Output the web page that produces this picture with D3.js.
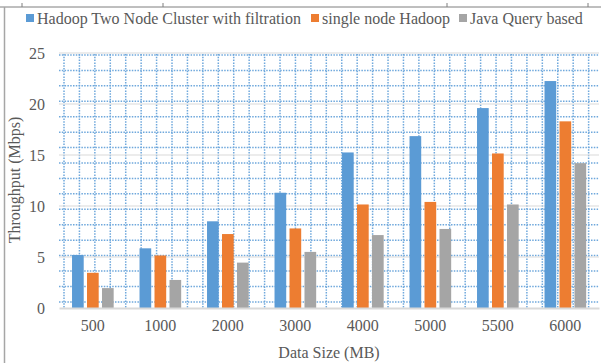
<!DOCTYPE html>
<html>
<head>
<meta charset="utf-8">
<script src="https://cdn.jsdelivr.net/npm/d3@7"></script>
<style>
  body { margin: 0; background: #fff; }
</style>
</head>
<body>
<div id="chart"></div>
<script>
// Data
const categories = ["500", "1000", "2000", "3000", "4000", "5000", "5500", "6000"];
const seriesNames = ["Hadoop Two Node Cluster with filtration", "single node Hadoop", "Java Query based"];
const hadoopTwoNode = [5.2, 5.85, 8.5, 11.3, 15.25, 16.85, 19.6, 22.25];
const singleNode = [3.45, 5.15, 7.25, 7.8, 10.15, 10.4, 15.15, 18.3];
const javaQuery = [1.95, 2.75, 4.45, 5.5, 7.15, 7.75, 10.15, 14.2];
const yTicks = [0, 5, 10, 15, 20, 25];
const colors = ["#5b9bd5", "#ed7d31", "#a5a5a5"];

const seriesValues = [hadoopTwoNode, singleNode, javaQuery];
const rows = categories.map((c, i) => ({
  cat: c,
  values: seriesNames.map((s, j) => ({ key: s, value: seriesValues[j][i] }))
}));

const font = "'Liberation Serif', 'Times New Roman', Times, serif";
const textColor = "#595959";
const width = 601, height = 363;
const plot = { left: 59, right: 599, top: 53, bottom: 308 };

const svg = d3.select("#chart")
    .append("svg")
    .attr("width", width)
    .attr("height", height)
    .style("font-family", font);

// frame lines (the picture is cropped out of a table)
svg.append("line")
    .attr("x1", 0).attr("x2", width).attr("y1", 7).attr("y2", 7)
    .attr("stroke", "#7f7f7f").attr("stroke-width", 1);
[22, 163, 447, 588].forEach(tx => {
  svg.append("line")
      .attr("x1", tx).attr("x2", tx).attr("y1", 3).attr("y2", 7)
      .attr("stroke", "#7f7f7f").attr("stroke-width", 1);
});
svg.append("line")
    .attr("x1", 4.5).attr("x2", 4.5).attr("y1", 7).attr("y2", height)
    .attr("stroke", "#a6a6a6").attr("stroke-width", 1.5);

// Scales
const x0 = d3.scaleBand()
    .domain(categories)
    .range([plot.left, plot.right]);

const bw = x0.bandwidth();
const x1 = d3.scaleBand()
    .domain(seriesNames)
    .range([bw * 0.193, bw * 0.81])
    .paddingInner(0.22);

const y = d3.scaleLinear()
    .domain([0, 25])
    .range([plot.bottom, plot.top]);

// dotted background grid pattern
const cell = 15.43;
const grid = svg.append("g")
    .attr("stroke", "#6fa8dc")
    .attr("stroke-width", 1.5)
    .attr("stroke-dasharray", "1.5,1.3");

grid.selectAll(".hdot")
    .data(d3.range(55, plot.bottom, cell))
    .join("line")
    .attr("class", "hdot")
    .attr("x1", plot.left).attr("x2", plot.right)
    .attr("y1", d => d).attr("y2", d => d);

grid.selectAll(".vdot")
    .data(d3.range(64, plot.right, cell))
    .join("line")
    .attr("class", "vdot")
    .attr("x1", d => d).attr("x2", d => d)
    .attr("y1", plot.top + 1).attr("y2", plot.bottom);

// major gridlines
svg.append("g")
    .selectAll("line")
    .data(yTicks.slice(1))
    .join("line")
    .attr("x1", plot.left).attr("x2", plot.right)
    .attr("y1", d => y(d)).attr("y2", d => y(d))
    .attr("stroke", "#d9d9d9")
    .attr("stroke-width", 1.2);

// Bars
svg.append("g")
    .selectAll("g")
    .data(rows)
    .join("g")
    .attr("transform", d => `translate(${x0(d.cat)},0)`)
    .selectAll("rect")
    .data(d => d.values)
    .join("rect")
    .attr("x", d => x1(d.key))
    .attr("y", d => y(d.value))
    .attr("width", x1.bandwidth())
    .attr("height", d => y(0) - y(d.value))
    .attr("fill", (d, i) => colors[i]);

// X axis
const xAxis = svg.append("g")
    .attr("transform", `translate(0,${plot.bottom})`)
    .call(d3.axisBottom(x0).tickSize(0).tickPadding(12))
    .attr("font-family", font)
    .attr("font-size", 16);
xAxis.select(".domain")
    .attr("stroke", "#d9d9d9")
    .attr("stroke-width", 2);
xAxis.selectAll("text")
    .attr("fill", textColor);

// Y axis
const yAxis = svg.append("g")
    .attr("transform", `translate(${plot.left},0)`)
    .call(d3.axisLeft(y).tickValues(yTicks).tickSize(0).tickPadding(14))
    .attr("font-family", font)
    .attr("font-size", 16);
yAxis.select(".domain").remove();
yAxis.selectAll("text")
    .attr("fill", textColor);

// Axis titles
svg.append("text")
    .attr("x", 329)
    .attr("y", 358)
    .attr("text-anchor", "middle")
    .attr("font-family", font)
    .attr("font-size", 16)
    .attr("fill", textColor)
    .text("Data Size (MB)");

svg.append("text")
    .attr("transform", "translate(20,180) rotate(-90)")
    .attr("text-anchor", "middle")
    .attr("font-family", font)
    .attr("font-size", 16)
    .attr("fill", textColor)
    .text("Throughput (Mbps)");

// Legend
const legendX = [26, 311, 459];
const legend = svg.append("g")
    .selectAll("g")
    .data(seriesNames)
    .join("g")
    .attr("transform", (d, i) => `translate(${legendX[i]},0)`);
legend.append("rect")
    .attr("x", 0).attr("y", 14)
    .attr("width", 8).attr("height", 8)
    .attr("fill", (d, i) => colors[i]);
legend.append("text")
    .attr("x", 11)
    .attr("y", 24)
    .attr("font-family", font)
    .attr("font-size", 16)
    .attr("fill", textColor)
    .text(d => d);
</script>
</body>
</html>
